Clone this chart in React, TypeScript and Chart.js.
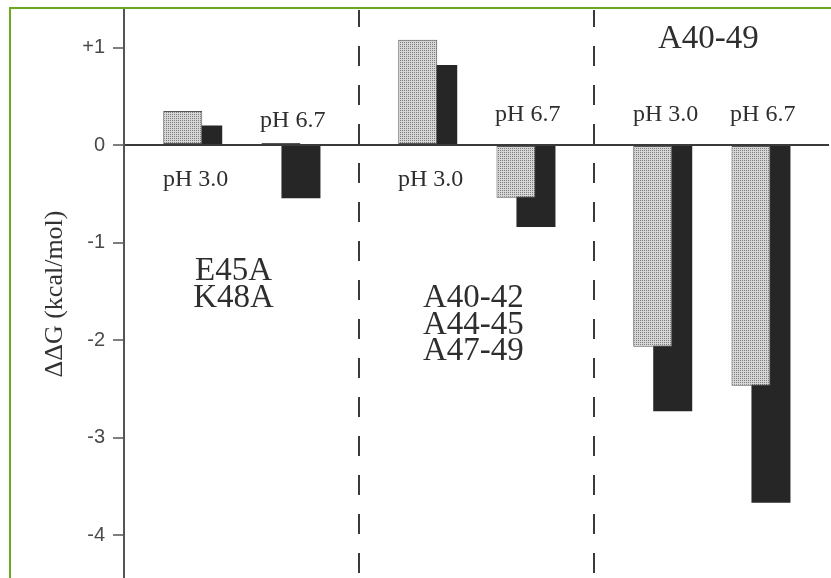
import React, { useEffect, useRef } from 'react';
import { Chart, registerables } from 'chart.js';

Chart.register(...registerables);

// ---- data ----
const panels: string[][] = [['E45A', 'K48A'], ['A40-42', 'A44-45', 'A47-49'], ['A40-49']];
const conditions = ['pH 3.0', 'pH 6.7'];
// stippled bars (front)
const stippledPH30 = [0.35, 1.08, -2.07];
const stippledPH67 = [0.02, -0.54, -2.47];
// black bars (behind)
const blackPH30 = [0.2, 0.82, -2.73];
const blackPH67 = [-0.545, -0.84, -3.67];
const yTickValues = [1, 0, -1, -2, -3, -4];
const yTitle = 'ΔΔG (kcal/mol)';

// ---- layout constants (axis units) ----
const COND_OFFSET = [0.25, 0.668];
const BLACK_SHIFT = 0.085;
const COND_LABEL_X = [0.305, 0.718];
const COND_LABEL_Y = [
  [-0.42, 0.185],
  [-0.42, 0.249],
  [0.249, 0.249],
];
const PANEL_LABEL_X = [0.466, 0.487, 0.487];
const PANEL_LABEL_Y = [-1.385, -1.662, 0.995];

function pts(vals: number[], cond: number, shift: number) {
  return vals.map((v, i) => ({ x: i + COND_OFFSET[cond] + shift, y: v }));
}

export default function App() {
  const ref = useRef<HTMLCanvasElement | null>(null);
  useEffect(() => {
    if (!ref.current) return;
    const pc = document.createElement('canvas');
    pc.width = 2;
    pc.height = 2;
    const pctx = pc.getContext('2d')!;
    pctx.fillStyle = '#d6d6d6';
    pctx.fillRect(0, 0, 2, 2);
    pctx.fillStyle = '#7c7c7c';
    pctx.fillRect(0, 0, 1, 1);
    const pattern = ref.current.getContext('2d')!.createPattern(pc, 'repeat')!;

    const textPlugin = {
      id: 'annotText',
      afterDatasetsDraw(chart: any) {
        const ctx = chart.ctx;
        const xs = chart.scales.x;
        const ys = chart.scales.y;
        ctx.save();
        ctx.fillStyle = '#2e2e2e';
        ctx.textAlign = 'center';
        ctx.textBaseline = 'alphabetic';
        ctx.font = '24px "Liberation Serif"';
        for (let p = 0; p < panels.length; p++) {
          for (let c = 0; c < conditions.length; c++) {
            ctx.fillText(
              conditions[c],
              xs.getPixelForValue(p + COND_LABEL_X[c]),
              ys.getPixelForValue(COND_LABEL_Y[p][c])
            );
          }
        }
        ctx.font = '33px "Liberation Serif"';
        for (let p = 0; p < panels.length; p++) {
          const x = xs.getPixelForValue(p + PANEL_LABEL_X[p]);
          const y0 = ys.getPixelForValue(PANEL_LABEL_Y[p]);
          panels[p].forEach((line, k) => ctx.fillText(line, x, y0 + k * 26.5));
        }
        ctx.restore();
      },
    };

    const chart = new Chart(ref.current, {
      type: 'bar',
      data: {
        datasets: [
          {
            label: 'stippled ' + conditions[0],
            data: pts(stippledPH30, 0, 0),
            backgroundColor: pattern,
            borderColor: '#555',
            borderWidth: 1,
            borderSkipped: false,
          },
          {
            label: 'stippled ' + conditions[1],
            data: pts(stippledPH67, 1, 0),
            backgroundColor: pattern,
            borderColor: '#555',
            borderWidth: 1,
            borderSkipped: false,
          },
          {
            label: 'black ' + conditions[0],
            data: pts(blackPH30, 0, BLACK_SHIFT),
            backgroundColor: '#262626',
            borderWidth: 0,
          },
          {
            label: 'black ' + conditions[1],
            data: pts(blackPH67, 1, BLACK_SHIFT),
            backgroundColor: '#262626',
            borderWidth: 0,
          },
        ] as any,
      },
      options: {
        animation: false,
        responsive: false,
        maintainAspectRatio: false,
        grouped: false,
        barPercentage: 3,
        categoryPercentage: 1,
        maxBarThickness: 39,
        layout: { padding: { left: 0, top: 10, right: 2, bottom: 0 } },
        plugins: { legend: { display: false }, tooltip: { enabled: false } },
        scales: {
          x: {
            type: 'linear',
            min: 0,
            max: 3,
            offset: false,
            ticks: { display: false, stepSize: 1 },
            grid: {
              offset: false,
              drawTicks: false,
              color: (ctx: any) =>
                ctx.tick && (ctx.tick.value === 1 || ctx.tick.value === 2) ? '#3a3a3a' : 'transparent',
              lineWidth: 2,
            },
            border: { display: false, dash: [20, 19], dashOffset: 3 },
            afterFit: (s: any) => {
              s.height = 0;
              s.paddingLeft = 0;
              s.paddingRight = 0;
            },
          },
          y: {
            type: 'linear',
            min: -4.441,
            max: 1.385,
            afterBuildTicks: (s: any) => {
              s.ticks = yTickValues.map((v) => ({ value: v }));
            },
            ticks: {
              stepSize: 1,
              includeBounds: false,
              callback: (v: any) => (v > 0 ? '+' + v : String(v)),
              font: { family: 'Liberation Sans', size: 20 },
              color: '#4a4a4a',
              padding: 8,
            },
            grid: {
              drawOnChartArea: true,
              color: (ctx: any) => (ctx.tick && ctx.tick.value === 0 ? '#3a3a3a' : 'transparent'),
              lineWidth: (ctx: any) => (ctx.tick && ctx.tick.value === 0 ? 2 : 0),
              tickColor: '#555',
              tickLength: 11,
              tickWidth: 1.5,
            },
            border: { display: true, color: '#555', width: 2 },
            title: {
              display: true,
              text: yTitle,
              font: { family: 'Liberation Serif', size: 26 },
              color: '#333',
              padding: { top: 40, bottom: 0 },
            },
            afterFit: (s: any) => {
              s.width = 124;
              s.paddingTop = 0;
              s.paddingBottom = 0;
            },
          },
        },
      } as any,
      plugins: [textPlugin],
    });
    return () => chart.destroy();
  }, []);

  return (
    <div style={{ position: 'fixed', left: 0, top: 0, width: 831, height: 578, background: '#fff' }}>
      <canvas ref={ref} width={831} height={578} style={{ position: 'absolute', left: 0, top: 0 }} />
      <div style={{ position: 'absolute', left: 9, top: 7, width: 2, height: 571, background: '#6aaa1e' }} />
      <div style={{ position: 'absolute', left: 9, top: 7, width: 822, height: 2, background: '#6aaa1e' }} />
    </div>
  );
}
